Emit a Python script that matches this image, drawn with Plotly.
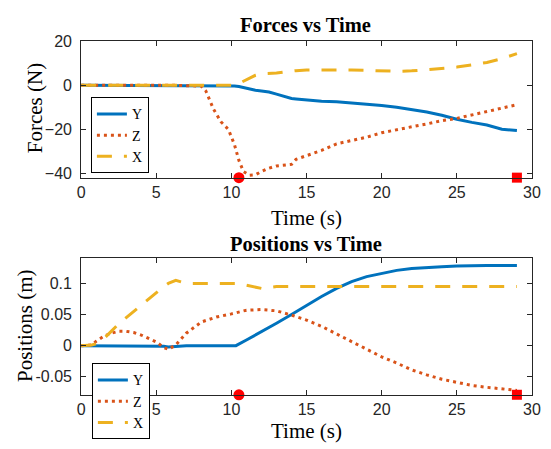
import plotly.graph_objects as go

# ---------------- data ----------------
t_force = [0, 2, 4, 6, 8, 8.3, 8.8, 9.3, 9.8, 10.2, 10.5, 10.8, 11.2, 11.6,
           12, 12.5, 13, 13.5, 14, 14.3, 15, 16, 17, 18, 19, 20, 21, 22, 23,
           24, 25, 26, 27, 28, 29]
force_y = [0, 0, 0, 0, 0, 0, 0, 0, 0, -0.3, -0.6, -1.1, -1.9, -2.3,
           -2.6, -3.1, -4.0, -5.0, -6.0, -6.2, -6.6, -7.3, -7.5, -8.0, -8.6, -9.2, -10.0, -11.0, -12.1,
           -13.6, -15.4, -16.8, -18.0, -19.9, -20.5]
force_z = [0, 0, 0, 0, -0.4, -2.6, -10.7, -16.5, -20.0, -26.8, -34.0, -39.0, -40.7, -40.5,
           -39.0, -37.5, -36.5, -36.3, -35.8, -33.5, -31.9, -29.5, -26.5, -25.0, -23.5, -21.5, -20.3, -18.8, -17.5,
           -16.0, -15.0, -13.5, -12.0, -10.3, -8.8]
force_x = [0, 0, 0, 0, 0, 0, 0, 0, 0, 0, 0.8, 1.8, 3.0, 4.5,
           5.2, 5.3, 5.5, 6.0, 6.5, 6.6, 6.9, 7.0, 7.0, 6.9, 6.7, 6.5, 6.3, 6.5, 7.0,
           7.5, 8.2, 9.2, 10.3, 12.0, 14.3]

t_pos = [0, 0.7, 1, 1.5, 2, 2.5, 3, 3.5, 4, 4.5, 5, 5.5, 5.8, 6.3,
         7, 8, 9, 10, 10.3, 11, 12, 13, 14, 15, 16, 17, 18, 19, 20, 21, 22,
         23, 24, 25, 26, 27, 28, 29]
pos_y = [0, 0, 0, 0, 0, 0, 0, 0, 0, 0, 0, -0.001, -0.002, -0.001,
         0, 0, 0, 0, 0, 0.009, 0.022, 0.036, 0.050, 0.065, 0.079, 0.092, 0.103, 0.111, 0.116, 0.121, 0.124,
         0.126, 0.127, 0.128, 0.129, 0.129, 0.129, 0.129]
pos_z = [0, 0.001, 0.007, 0.015, 0.020, 0.023, 0.023, 0.021, 0.017, 0.012, 0.006, -0.003, -0.006, 0.001,
         0.020, 0.038, 0.046, 0.051, 0.053, 0.057, 0.058, 0.056, 0.049, 0.041, 0.031, 0.019, 0.006, -0.006, -0.018, -0.028, -0.039,
         -0.047, -0.054, -0.059, -0.064, -0.067, -0.069, -0.072]
pos_x = [0, 0.001, 0.003, 0.011, 0.023, 0.035, 0.045, 0.055, 0.066, 0.076, 0.086, 0.095, 0.100, 0.105,
         0.100, 0.100, 0.100, 0.100, 0.100, 0.097, 0.092, 0.095, 0.095, 0.096, 0.095, 0.095, 0.095, 0.095, 0.095, 0.095, 0.095,
         0.095, 0.095, 0.095, 0.095, 0.095, 0.095, 0.095]

event_times = [10.5, 29]
force_range = [-41.8, 20]
pos_range = [-0.079, 0.1405]
x_ticks = [0, 5, 10, 15, 20, 25, 30]
force_ticks = [-40, -20, 0, 20]
pos_ticks = [-0.05, 0, 0.05, 0.1]
pos_ticktext = ["-0.05", "0", "0.05", "0.1"]

C_Y, C_Z, C_X = "#0072BD", "#D95319", "#EDB120"
AX = "#262626"
SERIF = "Liberation Serif"
SANS = "Arial"

fig = go.Figure()

def add_set(t, y, z, x, xa, ya, leg):
    fig.add_trace(go.Scatter(x=t, y=y, name="Y", mode="lines", xaxis=xa, yaxis=ya, legend=leg,
                             line=dict(color=C_Y, width=3)))
    fig.add_trace(go.Scatter(x=t, y=z, name="Z", mode="lines", xaxis=xa, yaxis=ya, legend=leg,
                             line=dict(color=C_Z, width=3, dash="3px,4px")))
    fig.add_trace(go.Scatter(x=t, y=x, name="X", mode="lines", xaxis=xa, yaxis=ya, legend=leg,
                             line=dict(color=C_X, width=3, dash="15px,12px")))

def add_events(xa, ya, ymin):
    fig.add_trace(go.Scatter(x=[event_times[0]], y=[ymin], mode="markers", xaxis=xa, yaxis=ya,
                             showlegend=False, cliponaxis=False,
                             marker=dict(symbol="circle", size=11, color="#FF0000")))
    fig.add_trace(go.Scatter(x=[event_times[1]], y=[ymin], mode="markers", xaxis=xa, yaxis=ya,
                             showlegend=False, cliponaxis=False,
                             marker=dict(symbol="square", size=10, color="#FF0000")))

add_set(t_force, force_y, force_z, force_x, "x", "y", "legend")
add_events("x", "y", force_range[0])
add_set(t_pos, pos_y, pos_z, pos_x, "x2", "y2", "legend2")
add_events("x2", "y2", pos_range[0])

W, H = 551, 449
xd = [79 / W, 540.7 / W]
yd1 = [1 - 174.7 / H, 1 - 34 / H]
yd2 = [1 - 398.3 / H, 1 - 257.7 / H]

common_axis = dict(showline=True, linecolor=AX, linewidth=1, mirror="ticks", ticks="inside",
                   ticklen=5, tickcolor=AX, showgrid=False, zeroline=False,
                   tickfont=dict(family=SANS, size=16, color=AX))

leg_common = dict(xanchor="left", yanchor="top", bgcolor="white", bordercolor="#000000",
                  borderwidth=1, font=dict(family=SERIF, size=14, color="#000000"),
                  itemwidth=30, tracegroupgap=0)

fig.update_layout(
    width=W, height=H, margin=dict(l=0, r=0, t=0, b=0),
    paper_bgcolor="white", plot_bgcolor="white",
    xaxis=dict(domain=xd, anchor="y", range=[0, 30], tickvals=x_ticks, **common_axis),
    yaxis=dict(domain=yd1, anchor="x", range=force_range, tickvals=force_ticks,
               ticklabelstandoff=5, **common_axis),
    xaxis2=dict(domain=xd, anchor="y2", range=[0, 30], tickvals=x_ticks, **common_axis),
    yaxis2=dict(domain=yd2, anchor="x2", range=pos_range, tickvals=pos_ticks, ticktext=pos_ticktext,
                ticklabelstandoff=5, **common_axis),
    legend=dict(x=89 / W, y=1 - 92 / H, **leg_common),
    legend2=dict(x=90 / W, y=1 - 366 / H, **leg_common),
    showlegend=True,
)

ann = [
    dict(text="<b>Forces vs Time</b>", x=309 / W, y=1 - 18 / H, size=20.5),
    dict(text="<b>Positions vs Time</b>", x=309 / W, y=1 - 243 / H, size=20.5),
    dict(text="Time (s)", x=310 / W, y=1 - 216 / H, size=21),
    dict(text="Time (s)", x=310 / W, y=1 - 436 / H, size=21),
]
for a in ann:
    fig.add_annotation(text=a["text"], x=a["x"], y=a["y"], xref="paper", yref="paper",
                       xanchor="center", yanchor="middle", showarrow=False,
                       font=dict(family=SERIF, size=a["size"], color="#000000"))
fig.add_annotation(text="Forces (N)", x=32 / W, y=1 - 103 / H, xref="paper", yref="paper",
                   xanchor="center", yanchor="middle", showarrow=False, textangle=-90,
                   font=dict(family=SERIF, size=21, color="#000000"))
fig.add_annotation(text="Positions (m)", x=21 / W, y=1 - 327 / H, xref="paper", yref="paper",
                   xanchor="center", yanchor="middle", showarrow=False, textangle=-90,
                   font=dict(family=SERIF, size=21, color="#000000"))

fig.write_html("out.html")
